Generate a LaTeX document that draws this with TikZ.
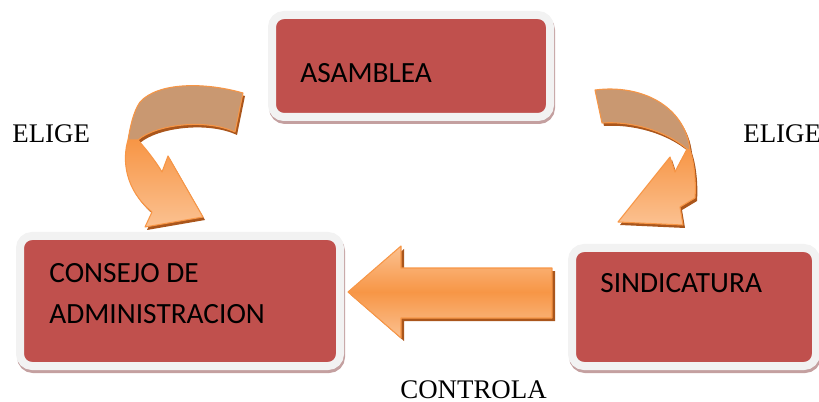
\documentclass[tikz,border=0pt]{standalone}
\usepackage{fontspec}
\setmainfont{Liberation Serif}
\newfontfamily\calibri{Carlito}
\def\upx{0.02cm}
\definecolor{rojo}{RGB}{192,80,77}
\definecolor{marco}{RGB}{242,242,242}
\definecolor{sombra}{RGB}{196,160,160}
\definecolor{naranja}{RGB}{247,150,70}
\definecolor{naranjaclaro}{RGB}{251,193,145}
\definecolor{cafe}{RGB}{201,152,113}
\definecolor{oscuro}{RGB}{170,86,28}
\tikzset{
  caja/.style={rectangle,rounded corners=12*\upx,fill=rojo,draw=marco,line width=8*\upx,
    preaction={draw=sombra,line width=8*\upx,transform canvas={shift={(1*\upx,-3*\upx)}}}},
  texto/.style={anchor=base west,font=\calibri\fontsize{16.7}{22.8}\selectfont,align=left,inner sep=0pt},
  rotulo/.style={anchor=base west,font=\fontsize{15.3}{18}\selectfont,inner sep=0pt},
  flecha/.style={draw=naranja,line width=0.6pt,line join=round},
}
\begin{document}
\begin{tikzpicture}[x=0.02cm,y=-0.02cm]
\useasboundingbox (0,0) rectangle (819,402);
% cajas
\node[caja,minimum width=278*\upx,minimum height=102*\upx] (asamblea) at (411,66) {};
\node[caja,minimum width=320*\upx,minimum height=130*\upx] (consejo) at (180,301) {};
\node[caja,minimum width=244*\upx,minimum height=118*\upx] (sindicatura) at (694,307) {};
\node[texto] (asambleaTxt) at (300,83) {ASAMBLEA};
\node[texto] (consejoTxt) at (49,323) {CONSEJO DE\\ADMINISTRACION};
\node[texto] (sindicaturaTxt) at (600,293) {SINDICATURA};
%
% flecha izquierda (elige)
\fill[oscuro,shift={(2,3)}] (128,140) .. controls (122,160) and (125,190) .. (152,212) -- (145,227) -- (203,217) -- (168,156) -- (162,172) .. controls (155,160) and (145,148) .. (138,140) -- cycle;
\fill[oscuro,shift={(2,3)}] (243,93) .. controls (205,82) and (158,82) .. (140,102) .. controls (133,112) and (130,128) .. (128,140) -- (138,140) .. controls (155,125) and (205,118) .. (235,132) -- cycle;
\draw[flecha,top color=naranja,bottom color=naranjaclaro] (128,140) .. controls (122,160) and (125,190) .. (152,212) -- (145,227) -- (203,217) -- (168,156) -- (162,172) .. controls (155,160) and (145,148) .. (138,140) -- cycle;
\draw[flecha,fill=cafe] (243,93) .. controls (205,82) and (158,82) .. (140,102) .. controls (133,112) and (130,128) .. (128,140) -- (138,140) .. controls (155,125) and (205,118) .. (235,132) -- cycle;
%
% flecha derecha (elige)
\fill[oscuro,shift={(2,3)}] (690,150) .. controls (695,165) and (696,185) .. (695,198) -- (680,207) -- (683,225) -- (618,222) -- (670,157) -- (675,172) .. controls (680,162) and (684,155) .. (687,149) -- cycle;
\fill[oscuro,shift={(2,3)}] (595,90) .. controls (640,84) and (685,105) .. (690,150) -- (687,149) .. controls (665,130) and (630,121) .. (602,123) -- cycle;
\draw[flecha,top color=naranja,bottom color=naranjaclaro] (690,150) .. controls (695,165) and (696,185) .. (695,198) -- (680,207) -- (683,225) -- (618,222) -- (670,157) -- (675,172) .. controls (680,162) and (684,155) .. (687,149) -- cycle;
\draw[flecha,fill=cafe] (595,90) .. controls (640,84) and (685,105) .. (690,150) -- (687,149) .. controls (665,130) and (630,121) .. (602,123) -- cycle;
%
% flecha horizontal (controla)
\fill[oscuro,shift={(3,3)}] (348,292) -- (401,246) -- (401,268) -- (552,268) -- (552,318) -- (401,318) -- (401,338) -- cycle;
\draw[flecha,top color=naranjaclaro,bottom color=naranjaclaro,middle color=naranja] (348,292) -- (401,246) -- (401,268) -- (552,268) -- (552,318) -- (401,318) -- (401,338) -- cycle;
%
\node[rotulo] (eligeIzq) at (12,143) {ELIGE};
\node[rotulo] (eligeDer) at (743,143) {ELIGE};
\node[rotulo] (controla) at (400,398) {CONTROLA};
\end{tikzpicture}
\end{document}
